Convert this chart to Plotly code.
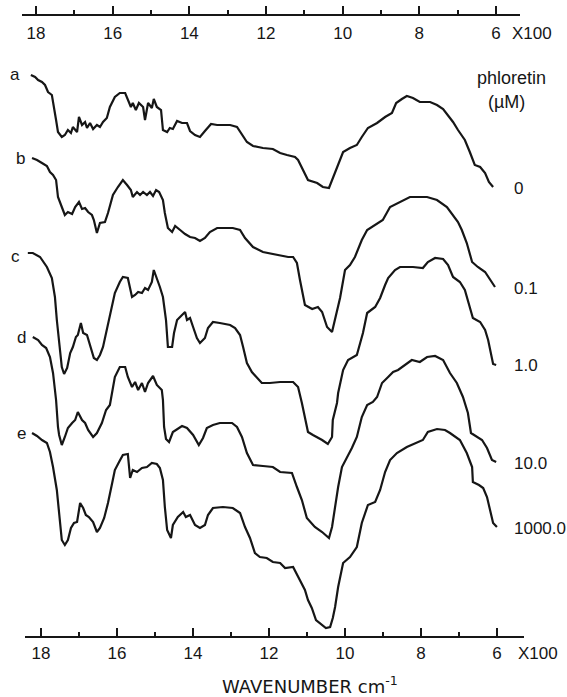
import plotly.graph_objects as go

W, H = 567, 697

# ---- spectra (wavenumber cm-1, relative transmittance) ----
wn_a = [1820, 1809, 1801, 1791, 1783, 1775, 1765, 1762, 1754, 1749, 1739, 1731, 1723, 1715, 1710, 1699, 1694, 1686,
        1678, 1673, 1665, 1657, 1647, 1639, 1631, 1621, 1613, 1600, 1587, 1573, 1566, 1558, 1553, 1545, 1537, 1526,
        1521, 1513, 1503, 1498, 1490, 1479, 1474, 1463, 1456, 1448, 1437, 1424, 1411, 1403, 1390, 1377, 1364, 1348,
        1332, 1298, 1280, 1267, 1254, 1238, 1212, 1186, 1167, 1149, 1128, 1120, 1107, 1094, 1070, 1055, 1039, 1029,
        1015, 1002, 984, 966, 953, 937, 913, 892, 874, 863, 848, 835, 819, 801, 774, 756, 740, 727, 714, 701, 683,
        670, 657, 643, 630, 620, 609]
t_a = [0, -2, -5, -7, -10, -17, -20, -28, -45, -57, -62, -60, -55, -58, -52, -57, -42, -50,
       -47, -53, -48, -54, -50, -52, -47, -43, -32, -22, -18, -18, -25, -32, -28, -35, -28, -32,
       -45, -28, -33, -24, -32, -35, -55, -57, -53, -54, -46, -48, -48, -56, -60, -62, -56, -49,
       -50, -50, -52, -60, -67, -71, -73, -74, -78, -80, -82, -85, -95, -105, -108, -112, -113, -103,
       -88, -77, -73, -70, -62, -53, -48, -42, -38, -28, -24, -21, -23, -27, -27, -30, -34, -40, -47, -55, -65,
       -77, -90, -92, -98, -107, -112]

wn_b = [1817, 1804, 1791, 1778, 1770, 1762, 1754, 1749, 1739, 1731, 1723, 1712, 1704, 1694, 1686, 1678, 1670, 1660,
        1655, 1647, 1639, 1626, 1618, 1605, 1592, 1579, 1568, 1558, 1553, 1542, 1534, 1526, 1516, 1508, 1500, 1492,
        1484, 1474, 1469, 1461, 1450, 1442, 1429, 1416, 1403, 1390, 1377, 1364, 1351, 1332, 1291, 1272, 1259, 1238,
        1212, 1175, 1146, 1133, 1123, 1115, 1102, 1083, 1068, 1057, 1044, 1031, 1023, 1010, 997, 984, 971, 953, 939,
        926, 911, 898, 879, 853, 827, 782, 756, 730, 714, 701, 691, 678, 664, 649, 630, 617, 604]
t_b = [0, -2, -5, -8, -14, -17, -22, -39, -49, -57, -54, -56, -49, -44, -51, -50, -54, -57,
       -62, -75, -65, -64, -55, -37, -29, -22, -27, -32, -39, -34, -37, -34, -37, -34, -38, -32,
       -34, -42, -55, -70, -74, -68, -72, -76, -79, -80, -83, -80, -74, -70, -70, -72, -80, -89,
       -94, -97, -99, -99, -105, -122, -147, -151, -149, -154, -169, -174, -162, -140, -112, -107, -99, -82, -72,
       -69, -65, -62, -49, -44, -39, -39, -42, -49, -57, -64, -72, -85, -104, -109, -114, -122, -129]

wn_c = [1828, 1815, 1796, 1778, 1765, 1757, 1752, 1744, 1739, 1733, 1725, 1717, 1710, 1702, 1697, 1689, 1683, 1673,
        1663, 1655, 1647, 1639, 1631, 1621, 1613, 1600, 1587, 1579, 1566, 1555, 1547, 1539, 1529, 1521, 1513, 1503,
        1498, 1490, 1482, 1474, 1466, 1461, 1450, 1445, 1437, 1424, 1416, 1411, 1403, 1395, 1385, 1377, 1364, 1356,
        1343, 1325, 1298, 1285, 1272, 1264, 1254, 1241, 1228, 1215, 1194, 1167, 1133, 1120, 1110, 1102, 1094, 1081,
        1057, 1042, 1031, 1029, 1018, 1015, 1002, 989, 966, 950, 939, 918, 905, 892, 884, 866, 853, 819, 793, 780,
        761, 740, 727, 714, 696, 683, 670, 662, 643, 630, 622, 615, 609, 601]
t_c = [0, 0, -4, -14, -25, -44, -67, -94, -114, -121, -115, -100, -94, -84, -82, -70, -80, -82,
       -94, -105, -107, -102, -94, -77, -60, -40, -29, -24, -25, -44, -42, -39, -40, -35, -37, -29,
       -17, -25, -34, -44, -67, -94, -94, -80, -67, -62, -59, -67, -65, -74, -85, -90, -85, -75,
       -69, -70, -72, -75, -82, -94, -110, -119, -124, -130, -130, -129, -129, -134, -150, -164, -179, -182,
       -187, -191, -184, -167, -150, -140, -117, -107, -102, -80, -60, -54, -45, -32, -25, -17, -14, -14, -15, -9,
       -5, -6, -12, -24, -29, -37, -54, -65, -69, -77, -87, -100, -111, -112]

wn_d = [1815, 1801, 1791, 1780, 1770, 1762, 1754, 1751, 1749, 1746, 1739, 1731, 1723, 1712, 1704, 1697, 1686, 1678,
        1670, 1657, 1647, 1634, 1623, 1613, 1600, 1587, 1573, 1566, 1555, 1547, 1539, 1529, 1521, 1513, 1500, 1490,
        1477, 1474, 1471, 1466, 1458, 1448, 1424, 1411, 1395, 1380, 1369, 1359, 1343, 1325, 1293, 1280, 1267, 1254,
        1238, 1212, 1186, 1167, 1136, 1123, 1110, 1097, 1076, 1057, 1044, 1039, 1031, 1023, 1015, 1005, 992, 979,
        966, 953, 939, 924, 913, 900, 884, 871, 858, 840, 822, 801, 782, 761, 740, 722, 704, 688, 675, 667, 651,
        638, 625, 612, 601]
t_d = [0, -3, -8, -11, -20, -36, -63, -83, -90, -98, -108, -100, -91, -86, -83, -75, -83, -86,
       -93, -100, -96, -86, -73, -68, -40, -30, -30, -40, -50, -45, -53, -46, -55, -46, -39, -48,
       -53, -63, -90, -102, -105, -95, -89, -91, -98, -108, -101, -91, -88, -86, -86, -90, -100, -116,
       -128, -129, -130, -135, -136, -150, -163, -181, -190, -195, -200, -201, -190, -170, -150, -130, -121, -111,
       -100, -80, -68, -65, -60, -46, -40, -35, -33, -28, -23, -25, -20, -19, -23, -36, -46, -60, -76, -96, -100,
       -103, -111, -123, -125]

wn_e = [1817, 1804, 1791, 1778, 1770, 1762, 1752, 1746, 1739, 1731, 1723, 1715, 1707, 1699, 1691, 1683, 1676, 1668,
        1657, 1647, 1639, 1628, 1618, 1607, 1600, 1589, 1579, 1566, 1560, 1553, 1542, 1529, 1516, 1503, 1490, 1482,
        1474, 1469, 1463, 1453, 1448, 1435, 1421, 1414, 1403, 1390, 1377, 1364, 1356, 1343, 1317, 1291, 1272, 1259,
        1246, 1233, 1220, 1202, 1186, 1167, 1154, 1133, 1120, 1102, 1094, 1084, 1073, 1055, 1047, 1036, 1029, 1023,
        1015, 1002, 984, 966, 953, 937, 918, 905, 892, 879, 861, 835, 808, 793, 780, 756, 735, 722, 696, 678, 664,
        662, 646, 635, 625, 617, 609, 599]
t_e = [0, -3, -7, -10, -19, -34, -57, -80, -107, -112, -107, -95, -90, -89, -70, -75, -82, -84,
       -89, -99, -95, -85, -70, -50, -37, -29, -22, -21, -45, -37, -39, -35, -34, -30, -31, -35,
       -47, -74, -97, -105, -92, -84, -79, -84, -82, -92, -95, -92, -82, -75, -74, -75, -80, -94,
       -105, -120, -124, -125, -129, -130, -135, -134, -144, -157, -167, -175, -187, -192, -195, -194, -185, -174,
       -154, -130, -124, -114, -90, -72, -69, -57, -39, -27, -20, -14, -10, -7, 1, 4, 3, 0, -7, -20, -34,
       -49, -52, -55, -64, -77, -90, -94]

spectra = [(wn_a, t_a), (wn_b, t_b), (wn_c, t_c), (wn_d, t_d), (wn_e, t_e)]
curve_letters = ["a", "b", "c", "d", "e"]
phloretin_conc = ["0", "0.1", "1.0", "10.0", "1000.0"]
tick_vals = [1800, 1600, 1400, 1200, 1000, 800, 600]
tick_text = ["18", "16", "14", "12", "10", "8", "6"]
minor_vals = [1700, 1500, 1300, 1100, 900, 700]

# ---- layout constants (vertical stacking of traces, in plot units) ----
offsets = [75, 158, 253, 337, 433]
INK = "#161616"
FONT = "Liberation Sans, Arial, sans-serif"
CLEAR = "rgba(0,0,0,0)"

fig = go.Figure()
for (wn, t), off in zip(spectra, offsets):
    fig.add_trace(go.Scatter(x=wn, y=[v - off for v in t], mode="lines",
                             line=dict(color=INK, width=2.2), hoverinfo="skip", showlegend=False))

# invisible helpers so the two printed wavenumber axes are drawn
for ax in ["x2", "x3"]:
    fig.add_trace(go.Scatter(x=[1800, 600], y=[-1, -1], xaxis=ax, yaxis="y", mode="markers",
                             marker=dict(opacity=0), hoverinfo="skip", showlegend=False))


def px(v):
    return v / W


def py(v):
    return 1 - v / H


def axis_style(standoff):
    return dict(
        side="bottom", anchor="free", showline=True, linecolor=INK, linewidth=1.7,
        ticks="inside", ticklen=8, tickwidth=1.7, tickcolor=INK,
        tickmode="array", tickvals=tick_vals, ticktext=tick_text,
        minor=dict(tickmode="array", tickvals=minor_vals, ticks="inside", ticklen=4,
                   tickwidth=1.5, tickcolor=INK, showgrid=False),
        showgrid=False, zeroline=False, tickfont=dict(family=FONT, size=17, color=INK),
        ticklabelstandoff=standoff,
    )


fig.update_layout(
    width=W, height=H, margin=dict(l=0, r=0, t=0, b=0),
    paper_bgcolor="white", plot_bgcolor=CLEAR,
    xaxis=dict(domain=[0, 1], range=[1900.9, 415.4], visible=False),
    yaxis=dict(domain=[0, 1], range=[-H, 0], visible=False),
    xaxis2=dict(domain=[px(22), px(520)], range=[1836.5, 537.4], position=py(15), **axis_style(3)),
    xaxis3=dict(domain=[px(25), px(524)], range=[1842.1, 528.9], position=py(637), **axis_style(1)),
)

ann = []
letter_pos = [(15, 74), (20, 158), (15, 256), (21, 337), (21, 433)]
for lab, (lx, ly) in zip(curve_letters, letter_pos):
    ann.append(dict(text=lab, x=px(lx), y=py(ly), xref="paper", yref="paper",
                    xanchor="center", yanchor="middle", showarrow=False,
                    font=dict(family=FONT, size=17, color=INK)))

conc_y = [188, 288, 365, 463, 528]
for lab, cy in zip(phloretin_conc, conc_y):
    ann.append(dict(text=lab, x=px(512), y=py(cy), xref="paper", yref="paper",
                    xanchor="left", yanchor="middle", showarrow=False,
                    font=dict(family=FONT, size=17, color=INK)))

ann += [
    dict(text="phloretin", x=px(511), y=py(78), xref="paper", yref="paper", showarrow=False,
         xanchor="center", yanchor="middle", font=dict(family=FONT, size=18, color=INK)),
    dict(text="(µM)", x=px(506), y=py(102), xref="paper", yref="paper", showarrow=False,
         xanchor="center", yanchor="middle", font=dict(family=FONT, size=18, color=INK)),
    dict(text="X100", x=px(532), y=py(33), xref="paper", yref="paper", showarrow=False,
         xanchor="center", yanchor="middle", font=dict(family=FONT, size=17, color=INK)),
    dict(text="X100", x=px(538), y=py(653), xref="paper", yref="paper", showarrow=False,
         xanchor="center", yanchor="middle", font=dict(family=FONT, size=17, color=INK)),
    dict(text="WAVENUMBER cm<sup>-1</sup>", x=px(310), y=py(685), xref="paper", yref="paper",
         showarrow=False, xanchor="center", yanchor="middle",
         font=dict(family="DejaVu Sans, sans-serif", size=18, color=INK)),
]
fig.update_layout(annotations=ann)

fig.write_html("out.html", config={"displayModeBar": False},
               post_script="document.body.style.margin='0px';")
